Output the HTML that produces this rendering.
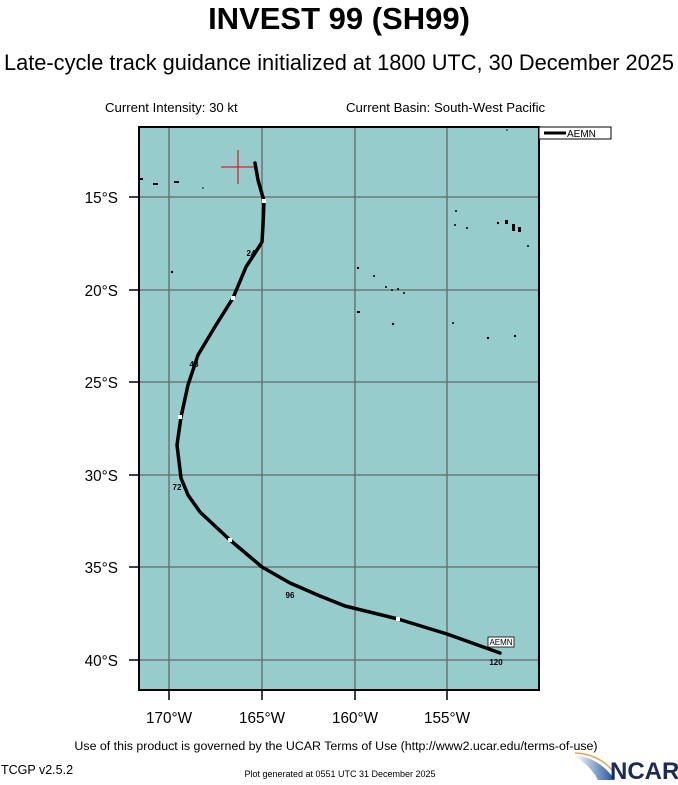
<!DOCTYPE html>
<html><head><style>
body{margin:0;width:678px;height:780px;background:#fff;overflow:hidden;font-family:"Liberation Sans",sans-serif}
</style></head><body>
<svg width="678" height="780" xmlns="http://www.w3.org/2000/svg" font-family="Liberation Sans, sans-serif">
<text x="339" y="29" font-size="31" font-weight="bold" text-anchor="middle">INVEST 99 (SH99)</text>
<text x="339" y="70" font-size="21.8" text-anchor="middle">Late-cycle track guidance initialized at 1800 UTC, 30 December 2025</text>
<text x="105" y="112" font-size="13.2">Current Intensity: 30 kt</text>
<text x="346" y="112" font-size="13.2">Current Basin: South-West Pacific</text>
<rect x="139" y="127" width="400" height="563" fill="#96cdcc"/>
<g stroke="#666" stroke-width="1.3">
<line x1="169" y1="127" x2="169" y2="690"/><line x1="262" y1="127" x2="262" y2="690"/>
<line x1="355" y1="127" x2="355" y2="690"/><line x1="447" y1="127" x2="447" y2="690"/>
<line x1="139" y1="197" x2="539" y2="197"/><line x1="139" y1="290" x2="539" y2="290"/>
<line x1="139" y1="382" x2="539" y2="382"/><line x1="139" y1="475" x2="539" y2="475"/>
<line x1="139" y1="567" x2="539" y2="567"/><line x1="139" y1="660" x2="539" y2="660"/>
</g>
<rect x="139" y="127" width="400" height="563" fill="none" stroke="#000" stroke-width="2"/>
<g stroke="#000" stroke-width="1.5">
<line x1="129" y1="197" x2="139" y2="197"/><line x1="129" y1="290" x2="139" y2="290"/><line x1="129" y1="382" x2="139" y2="382"/>
<line x1="129" y1="475" x2="139" y2="475"/><line x1="129" y1="567" x2="139" y2="567"/><line x1="129" y1="660" x2="139" y2="660"/>
<line x1="169" y1="690" x2="169" y2="700"/><line x1="262" y1="690" x2="262" y2="700"/><line x1="355" y1="690" x2="355" y2="700"/><line x1="447" y1="690" x2="447" y2="700"/>
</g>
<g font-size="15.3" text-anchor="end">
<text x="118" y="203">15°S</text><text x="118" y="296">20°S</text><text x="118" y="388">25°S</text>
<text x="118" y="481">30°S</text><text x="118" y="573">35°S</text><text x="118" y="666">40°S</text>
</g>
<g font-size="15.3" text-anchor="middle">
<text x="169" y="723">170°W</text><text x="262" y="723">165°W</text><text x="355" y="723">160°W</text><text x="447" y="723">155°W</text>
</g>
<g fill="#000">
<rect x="140" y="178" width="3" height="2"/><rect x="153" y="183" width="5" height="2"/><rect x="174" y="181" width="5" height="2"/>
<circle cx="203" cy="188" r="0.8"/><circle cx="172" cy="272" r="1.2"/>
<circle cx="456" cy="211" r="1"/><circle cx="455" cy="225" r="1"/><circle cx="467" cy="228" r="1"/><circle cx="498" cy="223" r="1.2"/>
<rect x="505" y="220" width="3" height="4"/><rect x="512" y="224" width="3" height="7"/><rect x="518" y="227" width="3" height="5"/>
<circle cx="528" cy="246" r="1"/><circle cx="358" cy="268" r="1.2"/><circle cx="374" cy="276" r="1"/><circle cx="386" cy="287" r="1"/>
<circle cx="392" cy="290" r="1"/><circle cx="398" cy="289" r="1"/><circle cx="404" cy="293" r="1"/><rect x="357" y="311" width="3" height="2"/>
<circle cx="393" cy="324" r="1.2"/><circle cx="453" cy="323" r="1"/><circle cx="488" cy="338" r="1.2"/><circle cx="515" cy="336" r="1.2"/><circle cx="507" cy="130" r="0.8"/>
</g>
<g stroke="#e02020" stroke-width="1.3"><line x1="221" y1="167" x2="255" y2="167"/><line x1="238" y1="150" x2="238" y2="184"/></g>
<polyline fill="none" stroke="#000" stroke-width="3.5" stroke-linejoin="round" stroke-linecap="round"
points="255,163 258,180 264,201 263,225 262,242 257,250 246,267 233,298 216,325 198,355 188,385 181,417 177,445 181,478 188,495 200,512 230,540 262,567 290,583 320,596 345,606 398,619 447,634 500,653"/>
<g fill="#fff"><rect x="262" y="199" width="4" height="4"/><rect x="231" y="296" width="4" height="4"/><rect x="178" y="415" width="4" height="4"/><rect x="228" y="538" width="4" height="4"/><rect x="396" y="617" width="4" height="4"/></g>
<g font-size="8" text-anchor="middle" font-weight="bold"><text x="251" y="256">24</text><text x="194" y="367">48</text><text x="177" y="490">72</text><text x="290" y="598">96</text><text x="496" y="665">120</text></g>
<rect x="488" y="637" width="26" height="10" fill="#fff" stroke="#000" stroke-width="0.8"/>
<text x="501" y="645" font-size="8" text-anchor="middle">AEMN</text>
<rect x="539" y="127" width="72" height="12" fill="#fff" stroke="#000" stroke-width="1"/>
<line x1="544" y1="133" x2="566" y2="133" stroke="#000" stroke-width="3"/>
<text x="567" y="137" font-size="10">AEMN</text>
<text x="336" y="750" font-size="12.4" text-anchor="middle">Use of this product is governed by the UCAR Terms of Use (http://www2.ucar.edu/terms-of-use)</text>
<text x="1" y="774" font-size="12.5">TCGP v2.5.2</text>
<text x="340" y="777" font-size="9" text-anchor="middle">Plot generated at 0551 UTC   31 December 2025</text>
<defs><linearGradient id="g" x1="0" y1="0" x2="1" y2="0"><stop offset="0" stop-color="#fff"/><stop offset="1" stop-color="#1a4f9c"/></linearGradient></defs>
<path d="M575,755 Q600,758 615,780 L598,780 Q590,765 575,757Z" fill="url(#g)"/>
<path d="M575,753 Q598,754 612,770" stroke="#f0a050" stroke-width="1.5" fill="none"/>
<text x="610" y="779" font-size="24" font-weight="bold" fill="#1a2a5a">NCAR</text>
</svg>
</body></html>
